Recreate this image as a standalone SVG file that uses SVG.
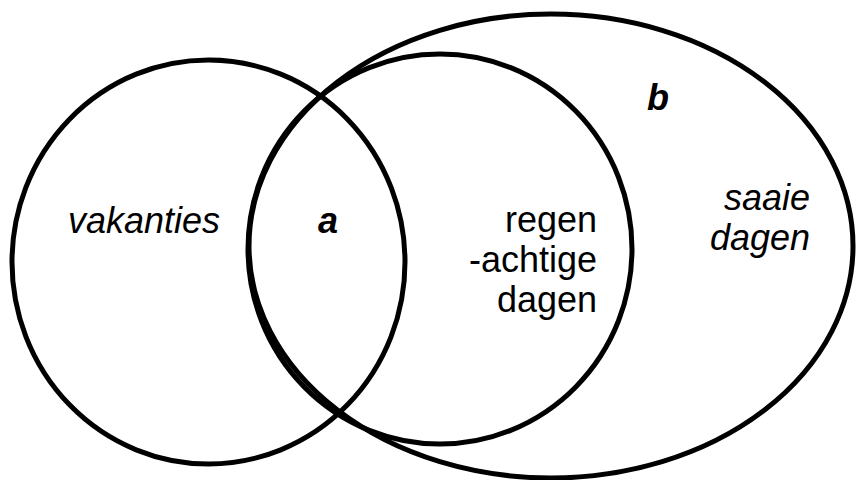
<svg xmlns="http://www.w3.org/2000/svg" width="856" height="480" viewBox="0 0 856 480">
<style>
.set{fill:none;stroke:#000;stroke-width:5}
.t{font-family:"Liberation Sans",Arial,sans-serif;font-size:36px;fill:#000}
.i{font-style:italic}
.b{font-weight:bold;font-style:italic}
</style>
<rect width="856" height="480" fill="#fff"/>
<g id="saaie-dagen">
<ellipse class="set" cx="551" cy="246" rx="302" ry="232"/>
<text class="t i" x="810" y="210" text-anchor="end">saaie</text>
<text class="t i" x="810" y="250" text-anchor="end">dagen</text>
<text class="t b" x="647" y="110">b</text>
</g>
<g id="vakanties">
<ellipse class="set" cx="208.5" cy="262" rx="196.5" ry="202"/>
<text class="t i" x="68" y="233">vakanties</text>
</g>
<g id="regenachtige-dagen">
<ellipse class="set" cx="440" cy="249" rx="192" ry="195"/>
<text class="t" x="597" y="232" text-anchor="end">regen</text>
<text class="t" x="597" y="272" text-anchor="end">-achtige</text>
<text class="t" x="597" y="312" text-anchor="end">dagen</text>
</g>
<g id="a">
<text class="t b" x="318" y="233">a</text>
</g>
<g id="connectors"></g>
</svg>
